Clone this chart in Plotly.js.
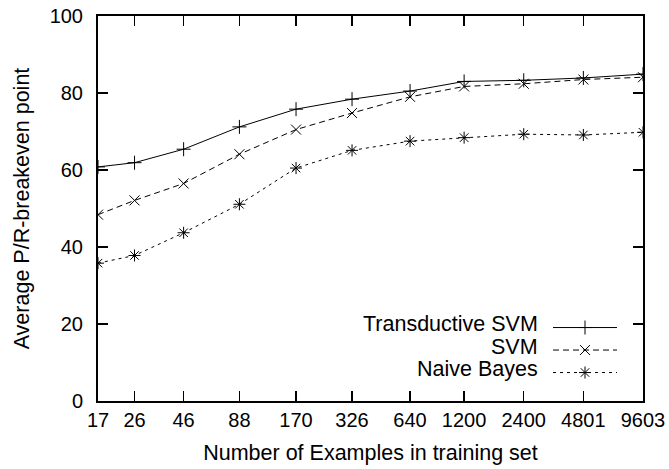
<!DOCTYPE html>
<html>
<head>
<meta charset="utf-8">
<script src="https://cdn.plot.ly/plotly-3.0.1.min.js"></script>
<style>html,body{margin:0;padding:0;background:#fff;}#chart{width:669px;height:469px;}</style>
</head>
<body>
<div id="chart"></div>
<script>
// Data
const trainingSizes = [17, 26, 46, 88, 170, 326, 640, 1200, 2400, 4801, 9603];
const tickLabels = ["17", "26", "46", "88", "170", "326", "640", "1200", "2400", "4801", "9603"];
const transductiveSVM = [60.8, 61.9, 65.4, 71.2, 75.8, 78.4, 80.5, 83.0, 83.3, 83.9, 84.9];
const svm = [48.4, 52.1, 56.5, 64.1, 70.5, 74.8, 79.0, 81.7, 82.4, 83.5, 84.1];
const naiveBayes = [35.8, 37.8, 43.7, 51.1, 60.5, 65.1, 67.5, 68.4, 69.3, 69.1, 69.8];
const seriesNames = ["Transductive SVM", "SVM", "Naive Bayes"];

const FONT = "Liberation Sans, Arial, Helvetica, sans-serif";
const TICK_FS = 20;
const TEXT_FS = 21.5;

function mk(y, dash, symbol) {
  return {
    x: trainingSizes, y: y, type: "scatter", mode: "lines+markers",
    name: "", hoverinfo: "none",
    line: {color: "#000", width: 1, dash: dash},
    marker: {symbol: symbol, size: 10, color: "#000", line: {color: "#000", width: 1}}
  };
}

const traces = [
  mk(transductiveSVM, "solid", "cross-thin-open"),
  mk(svm, "6px,4px", "x-thin-open"),
  mk(naiveBayes, "3px,4px", "asterisk-open")
];

const legendRowsY = [0.2, 0.141, 0.0823];
const annotations = seriesNames.map((s, i) => ({
  text: s, xref: "paper", yref: "paper", x: 0.811, y: legendRowsY[i],
  xanchor: "right", yanchor: "middle", showarrow: false,
  font: {family: FONT, size: TEXT_FS, color: "#000"}
}));

const layout = {
  width: 669, height: 469,
  margin: {l: 98, r: 26, t: 16, b: 68},
  paper_bgcolor: "#fff", plot_bgcolor: "#fff",
  font: {family: FONT, size: TICK_FS, color: "#000"},
  showlegend: true,
  legend: {
    x: 0.8257, y: 0.233, xanchor: "left", yanchor: "top",
    bgcolor: "rgba(0,0,0,0)", borderwidth: 0, itemwidth: 64,
    font: {family: FONT, size: 15, color: "#000"}, tracegroupgap: 0
  },
  xaxis: {
    type: "log",
    range: [Math.log10(trainingSizes[0]), Math.log10(trainingSizes[trainingSizes.length - 1])],
    tickmode: "array", tickvals: trainingSizes, ticktext: tickLabels,
    ticks: "inside", ticklen: 10, tickwidth: 1.5, tickcolor: "#000",
    mirror: "allticks", showline: true, linecolor: "#000", linewidth: 2,
    showgrid: false, zeroline: false,
    tickfont: {family: FONT, size: TICK_FS, color: "#000"},
    title: {text: "Number of Examples in training set", font: {family: FONT, size: TEXT_FS, color: "#000"}, standoff: 15}
  },
  yaxis: {
    range: [0, 100], tickmode: "linear", tick0: 0, dtick: 20,
    ticks: "inside", ticklen: 10, tickwidth: 1.5, tickcolor: "#000",
    mirror: "allticks", showline: true, linecolor: "#000", linewidth: 2,
    showgrid: false, zeroline: false,
    ticklabelstandoff: 9,
    tickfont: {family: FONT, size: TICK_FS, color: "#000"},
    title: {text: "Average P/R-breakeven point", font: {family: FONT, size: TEXT_FS, color: "#000"}, standoff: 14}
  },
  annotations: annotations
};

Plotly.newPlot("chart", traces, layout, {displayModeBar: false, staticPlot: true});
</script>
</body>
</html>
